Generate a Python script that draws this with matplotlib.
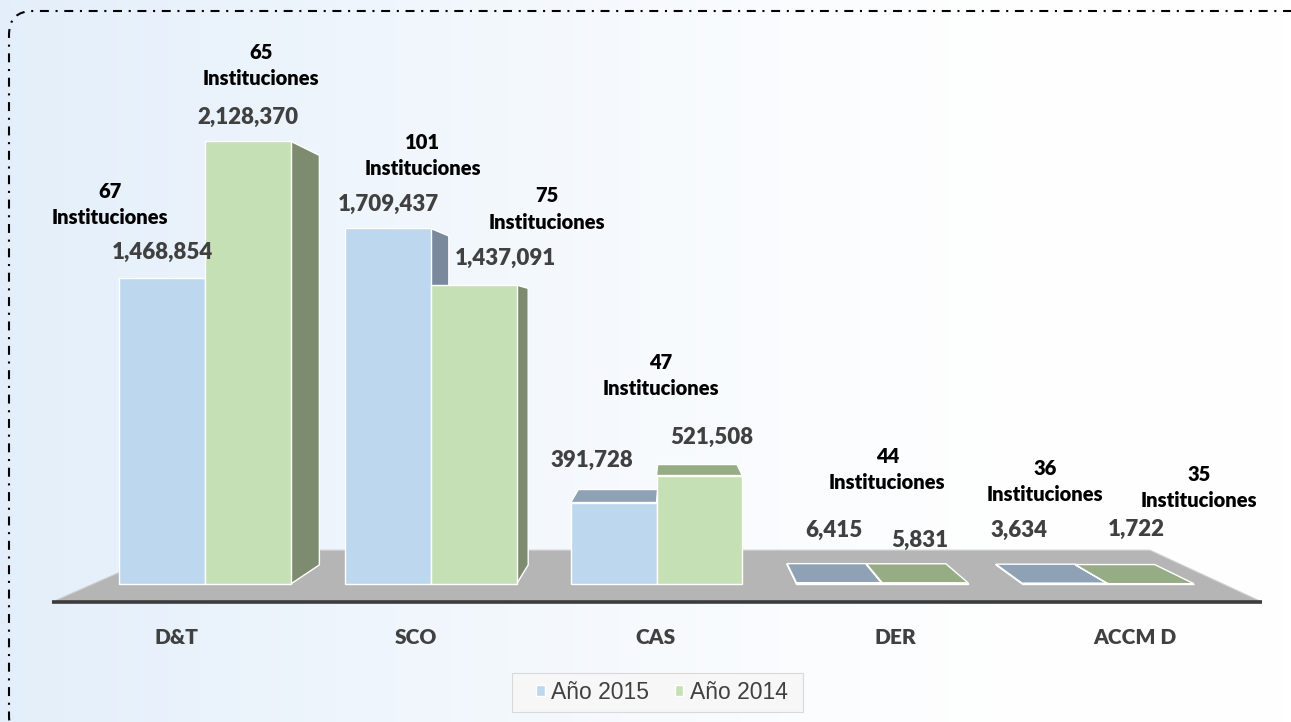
import numpy as np
import matplotlib.pyplot as plt
from matplotlib.patches import Polygon, Rectangle, FancyBboxPatch, Patch
from matplotlib.transforms import IdentityTransform

# Data
categories = ["D&T", "SCO", "CAS", "DER", "ACCM D"]
values_2015 = [1468854, 1709437, 391728, 6415, 3634]
values_2014 = [2128370, 1437091, 521508, 5831, 1722]
inst_2015 = [67, 101, 47, 44, 36]
inst_2014 = [65, 75, None, None, 35]

# label nudges in pixels (dx, dy) from the top centre of each bar
val_off_2015 = [(0, 26), (1, 24), (-22, 42), (-5, 52), (-46, 53)]
val_off_2014 = [(0, 24), (32, 27), (12, 38), (-5, 42), (-15, 54)]
inst_off_2015 = [(-52, 74), (35, 73), (47, 127), (48, 113), (-20, 102)]
inst_off_2014 = [(13, 76), (73, 76), None, None, (48, 96)]

# Layout (pixels of the 1291x722 picture)
W, H = 1291, 722
X0, GROUP, BASE, PX_PER_UNIT = 205.0, 225.75, 584.0, 2.08e-4


def to_data(px, py):
    return (px - X0) / GROUP, (BASE - py) / PX_PER_UNIT


VX, VY = to_data(672, 329)     # vanishing point
DEPTH = 0.075                  # bar depth toward the vanishing point
FLOOR_DEPTH = 0.19
LABEL_DEPTH = -0.062

blue, green = "#BDD7EE", "#C5E0B4"
blue_side, green_side = "#7a8a9c", "#7d8b6e"
blue_top, green_top = "#8fa2b5", "#96ac84"

plt.rcParams["font.family"] = ["Lato", "DejaVu Sans"]
BOLD = "heavy"

fig = plt.figure(figsize=(W / 100, H / 100), dpi=100)
ax = fig.add_axes([0, 0, 1, 1])
ax.set_axis_off()
xmin, ymin = to_data(0, H)
xmax, ymax = to_data(W, 0)

# background gradient
xx = np.linspace(0, 1, 200)
yy = np.linspace(0, 1, 100)
gx, gy = np.meshgrid(xx, yy)
wgt = np.clip(1 - gx / 0.8, 0, 1) ** 1.3 * 0.85 + 0.1 * (1 - gx)
wgt = np.clip(wgt, 0, 1)
c_left = np.array([226, 238, 250]) / 255
img = (1 - wgt[..., None]) * 1.0 + wgt[..., None] * c_left
ax.imshow(img, extent=(xmin, xmax, ymin, ymax), aspect="auto", zorder=0,
          origin="lower")


def back(x, y, k=DEPTH):
    return x + k * (VX - x), y + k * (VY - y)


# floor
fl_front_l = to_data(52, 602)
fl_front_r = to_data(1262, 602)
floor = [fl_front_l, back(*fl_front_l, k=FLOOR_DEPTH),
         back(*fl_front_r, k=FLOOR_DEPTH), fl_front_r]
ax.add_patch(Polygon(floor, closed=True, facecolor="#b5b5b5",
                     edgecolor="#d0d0d0", lw=0.8, zorder=1))
ax.plot([fl_front_l[0], fl_front_r[0]], [fl_front_l[1], fl_front_r[1]],
        color="#3c3c3c", lw=2.6, solid_capstyle="butt", zorder=1.5)

# bars
xpos = np.arange(len(categories))
bw = 0.38
bars15 = ax.bar(xpos - bw / 2, values_2015, bw, color=blue, edgecolor="white",
                lw=1, zorder=3)
bars14 = ax.bar(xpos + bw / 2, values_2014, bw, color=green,
                edgecolor="white", lw=1, zorder=3)


def faces(bar, side_c, top_c):
    L = bar.get_x()
    R = L + bar.get_width()
    T = bar.get_height()
    polys = []
    if R < VX:
        polys.append(([(R, 0), (R, T), back(R, T), back(R, 0)], side_c))
    if L > VX:
        polys.append(([(L, 0), (L, T), back(L, T), back(L, 0)], side_c))
    if T < VY:
        polys.append(([(L, T), (R, T), back(R, T), back(L, T)], top_c))
    for pts, c in polys:
        ax.add_patch(Polygon(pts, closed=True, facecolor=c,
                             edgecolor="white", lw=1, zorder=2))


for b in bars15:
    faces(b, blue_side, blue_top)
for b in bars14:
    faces(b, green_side, green_top)


# labels
def put_labels(bars, vals, v_off, insts, i_off):
    for b, v, vo, n, io in zip(bars, vals, v_off, insts, i_off):
        xc = b.get_x() + b.get_width() / 2
        ax.annotate(f"{v:,}", (xc, v), xytext=vo, textcoords="offset pixels",
                    ha="center", va="center", fontsize=16, fontweight=BOLD,
                    color="#404040", zorder=5)
        if n is not None:
            ax.annotate(f"{n}\nInstituciones", (xc, v), xytext=io,
                        textcoords="offset pixels", ha="center", va="center",
                        fontsize=14.5, fontweight=BOLD, color="black",
                        linespacing=1.45, zorder=5)


put_labels(bars15, values_2015, val_off_2015, inst_2015, inst_off_2015)
put_labels(bars14, values_2014, val_off_2014, inst_2014, inst_off_2014)

# category labels projected to the front of the floor
_, cat_y = to_data(0, 637)
for i, c in enumerate(categories):
    cx = i + LABEL_DEPTH * (VX - i)
    ax.text(cx, cat_y, c, ha="center", va="center", fontsize=15,
            fontweight=BOLD, color="#404040", zorder=5)

ax.set_xlim(xmin, xmax)
ax.set_ylim(ymin, ymax)

# legend
fig.patches.append(Rectangle((512 / W, 1 - 712 / H), 291 / W, 39 / H,
                             transform=fig.transFigure, facecolor="#f7f7f7",
                             edgecolor="#d9d9d9", lw=0.8, zorder=4))
handles = [Patch(facecolor=blue, edgecolor="white"),
           Patch(facecolor=green, edgecolor="white")]
leg = fig.legend(handles, ["Año 2015", "Año 2014"], ncol=2, loc="center",
                 bbox_to_anchor=(662 / W, 1 - 692.5 / H), frameon=False,
                 prop={"family": "Liberation Sans", "size": 16.5},
                 handlelength=0.38, handleheight=0.38, handletextpad=0.3,
                 columnspacing=1.1, labelcolor="#404040")
leg.set_zorder(6)

# dash-dot frame (display pixels, origin bottom-left), runs off right/bottom
fig.patches.append(FancyBboxPatch((9, H - 740), 1340, 729,
                                  boxstyle="round,pad=0,rounding_size=24",
                                  transform=IdentityTransform(), fill=False,
                                  edgecolor="black", lw=1.5,
                                  linestyle=(0, (4.3, 3.2, 1, 3.2)), zorder=7))

fig.savefig("out.png", dpi=100)
